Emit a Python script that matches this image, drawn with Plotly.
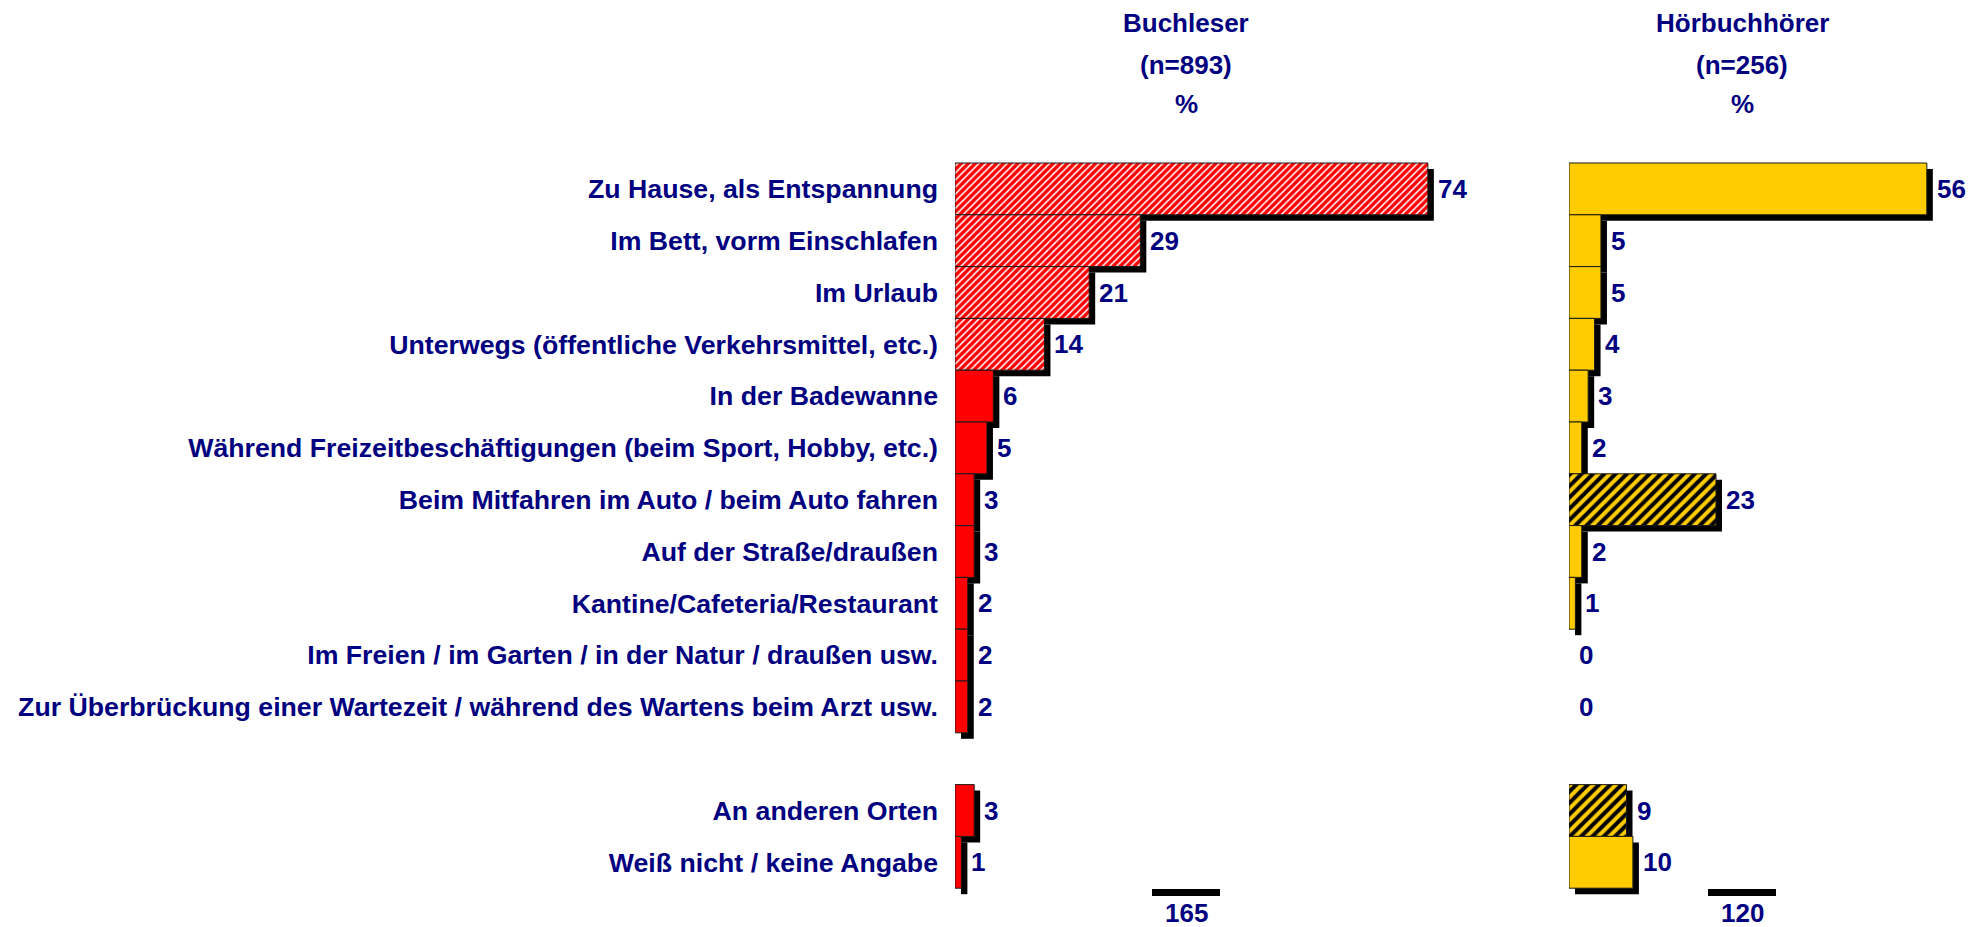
import plotly.graph_objects as go

# ---------------- data ----------------
categories = [
    "Zu Hause, als Entspannung",
    "Im Bett, vorm Einschlafen",
    "Im Urlaub",
    "Unterwegs (öffentliche Verkehrsmittel, etc.)",
    "In der Badewanne",
    "Während Freizeitbeschäftigungen (beim Sport, Hobby, etc.)",
    "Beim Mitfahren im Auto / beim Auto fahren",
    "Auf der Straße/draußen",
    "Kantine/Cafeteria/Restaurant",
    "Im Freien / im Garten / in der Natur / draußen usw.",
    "Zur Überbrückung einer Wartezeit / während des Wartens beim Arzt usw.",
    "An anderen Orten",
    "Weiß nicht / keine Angabe",
]
buchleser = [74, 29, 21, 14, 6, 5, 3, 3, 2, 2, 2, 3, 1]
hoerbuch = [56, 5, 5, 4, 3, 2, 23, 2, 1, 0, 0, 9, 10]
buch_hatched = [True, True, True, True, False, False, False, False, False, False, False, False, False]
hoer_hatched = [False, False, False, False, False, False, True, False, False, False, False, True, False]
header_buch = ["Buchleser", "(n=893)", "%"]
header_hoer = ["Hörbuchhörer", "(n=256)", "%"]

# ---------------- layout constants ----------------
W, H = 1982, 927
PPU = 6.39          # pixels per percent
ROW = 51.8          # pixels per row slot
TOP = 163           # pixel top of first slot
SH = 6              # shadow offset in pixels
NAVY = "#000080"
RED = "#FF0000"
YEL = "#FFCC00"
FONT = "Liberation Sans, Arial, sans-serif"

# slot positions: gap of one slot before the last two categories
ypos = [i if i < 11 else i + 1 for i in range(len(categories))]

left_px = (955, 1530)
right_px = (1569, 1982)

dx = SH / PPU
dy = SH / ROW

fig = go.Figure()


def add_panel(values, hatched, xaxis, color, hatch_fg, hatch_bg, hatch_size, solidity):
    # shadow
    fig.add_trace(go.Bar(
        x=values, y=[p + dy for p in ypos], base=dx, orientation="h", width=1,
        marker=dict(color="black", line=dict(width=0)),
        xaxis=xaxis, yaxis="y", hoverinfo="skip", showlegend=False,
    ))
    # bars
    fig.add_trace(go.Bar(
        x=values, y=ypos, orientation="h", width=1,
        marker=dict(
            color=color,
            line=dict(color="#1a1a1a", width=[1 if v > 0 else 0 for v in values]),
            pattern=dict(
                shape=["/" if h else "" for h in hatched],
                fgcolor=[hatch_fg if h else color for h in hatched],
                bgcolor=[hatch_bg if h else color for h in hatched],
                size=hatch_size, solidity=solidity, fillmode="replace",
            ),
        ),
        xaxis=xaxis, yaxis="y", showlegend=False,
        hovertemplate="%{x}<extra></extra>",
    ))
    for v, p in zip(values, ypos):
        fig.add_annotation(
            x=v, y=p, xref=xaxis, yref="y", text=str(v), showarrow=False,
            xanchor="left", yanchor="middle", xshift=SH + 2,
            font=dict(family=FONT, size=26, color=NAVY, weight="bold"),
        )


add_panel(buchleser, buch_hatched, "x", RED, RED, "white", 5, 0.7)
add_panel(hoerbuch, hoer_hatched, "x2", YEL, "black", YEL, 8, 0.5)

# headers and totals
line_y = [23, 65, 104]
for cx, header, vals in [((left_px[0] + 231), header_buch, buchleser),
                         ((right_px[0] + 173), header_hoer, hoerbuch)]:
    for txt, ly in zip(header, line_y):
        fig.add_annotation(
            x=cx / W, y=1 - ly / H, xref="paper", yref="paper", text=txt,
            showarrow=False, xanchor="center", yanchor="middle",
            font=dict(family=FONT, size=26, color=NAVY, weight="bold"),
        )
    fig.add_shape(type="rect", xref="paper", yref="paper",
                  x0=(cx - 34) / W, x1=(cx + 34) / W,
                  y0=1 - 896 / H, y1=1 - 889 / H,
                  fillcolor="black", line=dict(width=0))
    fig.add_annotation(
        x=cx / W, y=1 - 913 / H, xref="paper", yref="paper", text=str(sum(vals)),
        showarrow=False, xanchor="center", yanchor="middle",
        font=dict(family=FONT, size=26, color=NAVY, weight="bold"),
    )

y_bottom = -0.5 + (H - TOP) / ROW
y_top = -0.5 - TOP / ROW

fig.update_layout(
    width=W, height=H,
    margin=dict(l=0, r=0, t=0, b=0),
    paper_bgcolor="white", plot_bgcolor="white",
    barmode="overlay",
    xaxis=dict(domain=[left_px[0] / W, left_px[1] / W],
               range=[0, (left_px[1] - left_px[0]) / PPU],
               visible=False, fixedrange=True),
    xaxis2=dict(domain=[right_px[0] / W, right_px[1] / W],
                range=[0, (right_px[1] - right_px[0]) / PPU],
                anchor="y", visible=False, fixedrange=True),
    yaxis=dict(domain=[0, 1], range=[y_bottom, y_top], anchor="x",
               tickvals=ypos, ticktext=categories, showgrid=False,
               zeroline=False, showline=False, ticks="",
               ticklabelstandoff=16,
               tickfont=dict(family=FONT, size=26.7, color=NAVY, weight="bold"),
               fixedrange=True),
    showlegend=False,
)

fig.write_html("out.html")
